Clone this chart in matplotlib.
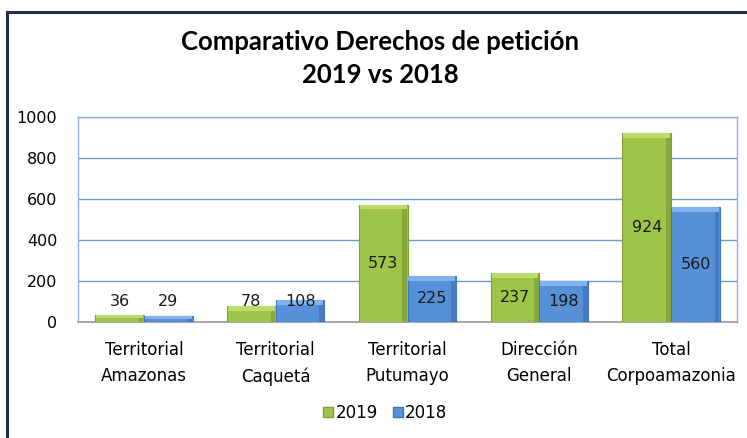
import matplotlib.pyplot as plt
from matplotlib.lines import Line2D
from matplotlib.patches import Patch

# data
categories = ["Territorial\nAmazonas", "Territorial\nCaquetá", "Territorial\nPutumayo",
              "Dirección\nGeneral", "Total\nCorpoamazonia"]
values_2019 = [36, 78, 573, 237, 924]
values_2018 = [29, 108, 225, 198, 560]
series_names = ["2019", "2018"]
y_ticks = [0, 200, 400, 600, 800, 1000]

green = "#9fc44a"
green_top = "#bddc6c"
green_side = "#86a93a"
green_edge = "#7f9e36"
blue = "#5690d8"
blue_top = "#82b3ee"
blue_side = "#4679c0"
blue_edge = "#3f74b8"

fig = plt.figure(figsize=(7.47, 4.38), dpi=100)
ax = fig.add_axes([78 / 747, 1 - 322 / 438, 659 / 747, 205 / 438])

x = list(range(len(categories)))
w = 0.37
off = 0.185
side = 0.035

for vals, col, top, sd, edge, sgn in [(values_2019, green, green_top, green_side, green_edge, -1),
                                       (values_2018, blue, blue_top, blue_side, blue_edge, 1)]:
    xs = [i + sgn * off for i in x]
    ax.bar(xs, vals, width=w, color=col, edgecolor=edge, linewidth=0.8, zorder=3)
    # bevel: darker right side, lighter top
    ax.bar([xi + w / 2 - side / 2 - 0.004 for xi in xs], vals, width=side,
           color=sd, linewidth=0, zorder=4)
    caps = [min(24, v * 0.5) for v in vals]
    ax.bar(xs, caps, bottom=[v - c for v, c in zip(vals, caps)], width=w * 0.96,
           color=top, linewidth=0, zorder=4)
    for xi, v in zip(xs, vals):
        ax.text(xi, max(v / 2, 100), str(v), ha="center", va="center",
                fontsize=11.5, color="#1a1a1a", zorder=5)

ax.set_xlim(-0.5, 4.5)
ax.set_ylim(0, 1000)
ax.set_yticks(y_ticks)
ax.set_yticklabels([str(t) for t in y_ticks], fontsize=11.5)
ax.set_xticks(x)
ax.set_xticklabels(categories, fontsize=12, linespacing=1.55)
ax.tick_params(axis="y", length=0, pad=15)
ax.tick_params(axis="x", length=0, pad=14)
ax.grid(axis="y", color="#6f9ad2", linewidth=1.0, zorder=0)
ax.set_axisbelow(True)
for s in ["top", "right", "left"]:
    ax.spines[s].set_color("#8fb0dc")
    ax.spines[s].set_linewidth(1.0)
ax.spines["bottom"].set_color("#9a9a9a")
ax.spines["bottom"].set_linewidth(1.2)

fig.text(380 / 747, 1 - 42 / 438, "Comparativo Derechos de petición", ha="center",
         va="center", fontsize=18.5, fontweight="bold", family="Lato")
fig.text(380 / 747, 1 - 75 / 438, "2019 vs 2018", ha="center", va="center",
         fontsize=18.5, fontweight="bold", family="Lato")

handles = [Patch(facecolor=green, edgecolor=green_edge), Patch(facecolor=blue, edgecolor=blue_edge)]
fig.legend(handles, series_names, loc="center", bbox_to_anchor=(385 / 747, 1 - 413 / 438),
           ncol=2, frameon=False, handlelength=0.6, handleheight=0.6, handletextpad=0.15,
           columnspacing=0.9, prop={"size": 12})

# dark outer frame (only top and left visible in the crop)
fig.add_artist(Line2D([7 / 747, 7 / 747], [0, 1 - 12 / 438], color="#1f2d45",
                      linewidth=2.2, transform=fig.transFigure))
fig.add_artist(Line2D([7 / 747, 1], [1 - 12 / 438, 1 - 12 / 438], color="#1f2d45",
                      linewidth=2.2, transform=fig.transFigure))

fig.savefig("out.png", dpi=100)
